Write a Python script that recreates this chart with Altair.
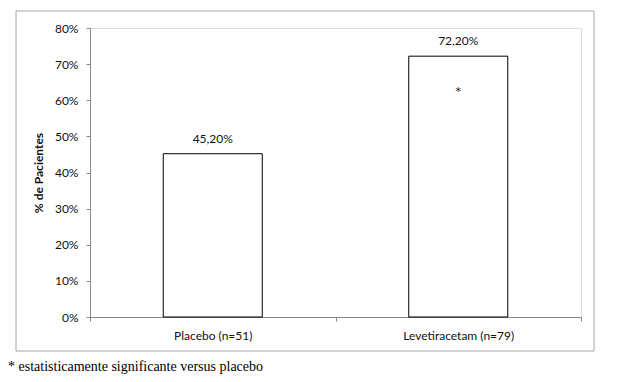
import altair as alt
import pandas as pd

categories = ["Placebo (n=51)", "Levetiracetam (n=79)"]
values = [0.452, 0.722]
markers = ["", "*"]
footnote = "* estatisticamente significante versus placebo"
y_title = "% de Pacientes"
y_ticks = [0, 0.1, 0.2, 0.3, 0.4, 0.5, 0.6, 0.7, 0.8]

df = pd.DataFrame({"cat": categories, "value": values, "mark": markers})

AX = "#868686"
FONT = "Lato"

x_enc = alt.X(
    "cat:N",
    sort=categories,
    title=None,
    scale=alt.Scale(paddingInner=0, paddingOuter=0),
    axis=alt.Axis(
        labelAngle=0, labelFont=FONT, labelFontSize=12, labelColor="#111111",
        domainColor=AX, tickColor=AX, tickSize=4, tickBand="extent",
        labelPadding=9,
    ),
)
y_enc = alt.Y(
    "value:Q",
    title=y_title,
    scale=alt.Scale(domain=[0, 0.8], nice=False),
    axis=alt.Axis(
        format=".0%", values=y_ticks, labelOverlap=False,
        grid=False, labelFont=FONT, labelFontSize=12, labelColor="#111111",
        domainColor=AX, tickColor=AX, tickSize=4, labelPadding=8,
        titleFont=FONT, titleFontSize=12, titleFontWeight="bold",
        titleColor="#111111", titlePadding=9,
    ),
)

base = alt.Chart(df)

frame = base.mark_rect(fill=None, stroke="#a6a6a6", strokeWidth=1).encode(
    x=alt.value(-74), x2=alt.value(504), y=alt.value(-17), y2=alt.value(323)
).transform_filter("datum.mark == '*'")

bars = base.mark_bar(size=99, fill="white", stroke="black", strokeWidth=1).encode(
    x=x_enc, y=y_enc
)

labels = base.transform_calculate(
    lbl="replace(format(datum.value, '.2%'), '.', ',')"
).mark_text(font=FONT, fontSize=12, baseline="bottom", dy=-8, color="#111111").encode(
    x=x_enc, y=y_enc, text="lbl:N"
)

star = base.mark_text(font="DejaVu Sans", fontSize=11, baseline="middle", dy=36, color="#111111").encode(
    x=x_enc, y=y_enc, text="mark:N"
)

note = base.mark_text(
    font="Liberation Serif", fontSize=14, align="left", baseline="middle", color="black"
).encode(
    x=alt.value(-82), y=alt.value(339), text=alt.value(footnote)
).transform_filter("datum.mark == '*'")

chart = alt.layer(frame, bars, labels, star, note).properties(
    width=491, height=289,
    autosize=alt.AutoSizeParams(type="none"),
    padding={"left": 82, "top": 20, "right": 30, "bottom": 57},
).configure_view(stroke=None).configure(background="white")

chart.save("out.html", embed_options={"renderer": "svg", "actions": False})
